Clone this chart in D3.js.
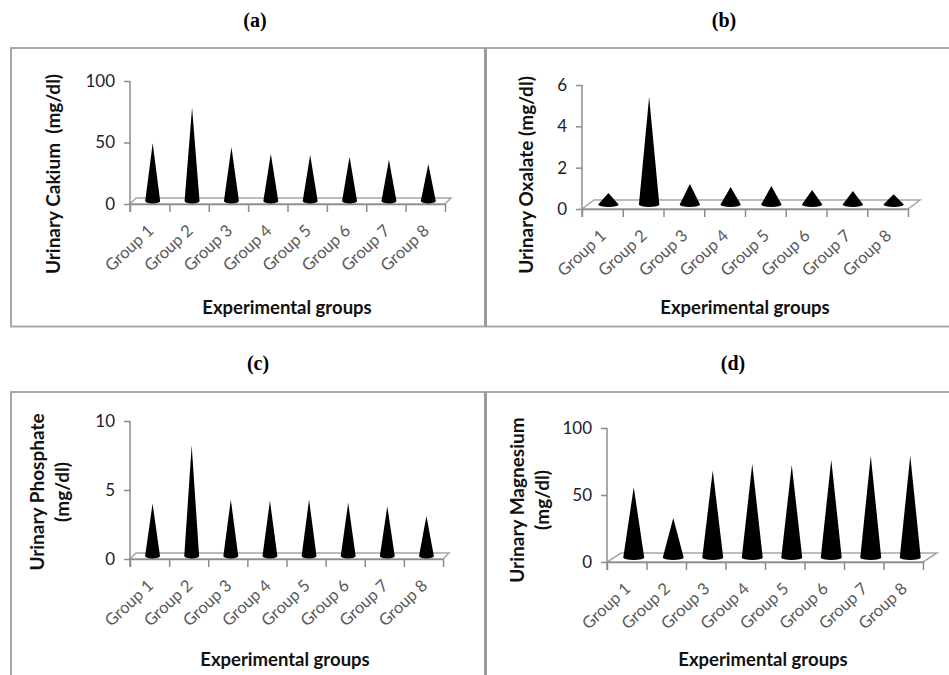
<!DOCTYPE html>
<html>
<head>
<meta charset="utf-8">
<script src="https://cdn.jsdelivr.net/npm/d3@7"></script>
<style>
  body { margin: 0; background: #fff; }
  svg { display: block; }
</style>
</head>
<body>
<svg id="chart" width="949" height="675"></svg>
<script>
// groups on the x axis
var groups = ["Group 1", "Group 2", "Group 3", "Group 4", "Group 5", "Group 6", "Group 7", "Group 8"];

// values (mg/dl)
var calcium   = [47, 76, 44, 38.5, 37.5, 36, 33.5, 30];
var oxalate   = [0.56, 5.2, 0.99, 0.85, 0.9, 0.7, 0.65, 0.5];
var phosphate = [3.8, 8.0, 4.1, 4.0, 4.1, 3.85, 3.6, 2.9];
var magnesium = [52.5, 29.5, 65, 70, 69, 73, 76, 76];

// y tick values
var calciumTicks   = [0, 50, 100];
var oxalateTicks   = [0, 2, 4, 6];
var phosphateTicks = [0, 5, 10];
var magnesiumTicks = [0, 50, 100];

var svg = d3.select("#chart");
var frameColor = "#a8a8a8";
var axisColor = "#8c8c8c";

// panel frames
var frames = svg.append("g");
frames.append("line").attr("x1", 10).attr("x2", 949).attr("y1", 48).attr("y2", 48);
frames.append("line").attr("x1", 10).attr("x2", 949).attr("y1", 326.5).attr("y2", 326.5);
frames.append("line").attr("x1", 11).attr("x2", 11).attr("y1", 48).attr("y2", 326.5);
frames.append("line").attr("x1", 10).attr("x2", 949).attr("y1", 392).attr("y2", 392);
frames.append("line").attr("x1", 11).attr("x2", 11).attr("y1", 392).attr("y2", 675);
frames.selectAll("line").attr("stroke", frameColor).attr("stroke-width", 2);
frames.append("line").attr("x1", 485.5).attr("x2", 485.5).attr("y1", 48).attr("y2", 326.5)
  .attr("stroke", "#9a9a9a").attr("stroke-width", 3);
frames.append("line").attr("x1", 485.5).attr("x2", 485.5).attr("y1", 392).attr("y2", 675)
  .attr("stroke", "#9a9a9a").attr("stroke-width", 3);

function drawPanel(p) {
  var g = svg.append("g");

  var x = d3.scaleBand().domain(groups).range([p.x0, p.x1]);
  var xb = d3.scaleLinear().domain([0, groups.length]).range([p.x0, p.x1]);
  var y = d3.scaleLinear().domain([0, d3.max(p.ticks)]).range([p.y0, p.yTop]);

  // panel letter
  g.append("text")
    .attr("x", p.letterX).attr("y", p.letterY)
    .attr("text-anchor", "middle")
    .style("font-family", "'Liberation Serif', serif")
    .style("font-weight", "bold").style("font-size", "20px")
    .text(p.letter);

  // 3d floor
  var fl = [[p.x0, p.y0], [p.x1, p.y0], [p.x1 + p.dx, p.y0 + p.dy], [p.x0 + p.dx, p.y0 + p.dy]];
  g.append("path")
    .attr("d", "M" + fl.join("L") + "Z")
    .attr("fill", "#fff").attr("stroke", "#a6a6a6").attr("stroke-width", 1.5);

  // x axis (ticks at group boundaries)
  var xa = g.append("g")
    .attr("transform", "translate(0," + p.y0 + ")")
    .call(d3.axisBottom(xb).tickValues(d3.range(groups.length + 1)).tickFormat("").tickSizeInner(8).tickSizeOuter(0));
  xa.selectAll("path, line").attr("stroke", axisColor).attr("stroke-width", 1.5);

  // y axis
  var ya = g.append("g")
    .attr("transform", "translate(" + p.x0 + ",0)")
    .call(d3.axisLeft(y).tickValues(p.ticks).tickFormat(d3.format("d"))
      .tickSizeInner(6).tickSizeOuter(0).tickPadding(9));
  ya.selectAll("path, line").attr("stroke", axisColor).attr("stroke-width", 1.5);
  ya.selectAll("text")
    .style("font-family", "Lato, sans-serif").style("font-size", "17px").attr("fill", "#1c1c2c");
  ya.select(".domain").attr("d", "M0," + (p.y0 + 8) + "V" + p.yTop);

  // cones
  var hw = x.bandwidth() * p.cone / 2;
  g.append("g").selectAll("path")
    .data(p.values)
    .enter().append("path")
    .attr("d", function(d, i) {
      var cx = x(groups[i]) + x.bandwidth() / 2 + p.dx / 2;
      var by = p.y0 + p.dy / 2;
      var ty = y(d) + p.dy / 2;
      return "M" + (cx - hw) + "," + by + "L" + cx + "," + ty + "L" + (cx + hw) + "," + by
        + "A" + hw + "," + 2.5 + " 0 0 1 " + (cx - hw) + "," + by + "Z";
    })
    .attr("fill", "#000");

  // group labels
  g.append("g").selectAll("text")
    .data(groups)
    .enter().append("text")
    .attr("transform", function(d) {
      return "translate(" + (x(d) + x.bandwidth() / 2 + 5) + "," + (p.y0 + 28) + ") rotate(-43)";
    })
    .attr("text-anchor", "end")
    .style("font-family", "Lato, sans-serif").style("font-size", "16.5px")
    .attr("fill", "#595959")
    .text(function(d) { return d; });

  // x axis title
  g.append("text")
    .attr("x", p.xtX).attr("y", p.xtY)
    .attr("text-anchor", "middle")
    .style("font-family", "Lato, sans-serif").style("font-weight", "bold").style("font-size", "18.5px")
    .attr("fill", "#111")
    .text("Experimental groups");

  // y axis title (one or two lines)
  var yt = g.append("text")
    .attr("transform", "translate(" + p.ytX + "," + p.ytY + ") rotate(-90)")
    .attr("text-anchor", "middle")
    .style("font-family", "Lato, sans-serif").style("font-weight", "bold").style("font-size", "19px")
    .style("white-space", "pre")
    .attr("fill", "#111");
  p.ytitle.forEach(function(t, i) {
    yt.append("tspan").attr("x", 0).attr("dy", i == 0 ? 0 : 25).text(t);
  });
}

drawPanel({letter: "(a)", letterX: 255, letterY: 27, values: calcium, ticks: calciumTicks,
  x0: 130, x1: 445, y0: 204, yTop: 81, dx: 6, dy: -6, cone: 0.38,
  xtX: 287, xtY: 314, ytX: 60, ytY: 174, ytitle: ["Urinary Cakium  (mg/dl)"]});

drawPanel({letter: "(b)", letterX: 724, letterY: 27, values: oxalate, ticks: oxalateTicks,
  x0: 582, x1: 908, y0: 209, yTop: 85, dx: 12, dy: -9, cone: 0.5,
  xtX: 745, xtY: 314, ytX: 533, ytY: 175, ytitle: ["Urinary Oxalate (mg/dl)"]});

drawPanel({letter: "(c)", letterX: 258, letterY: 370, values: phosphate, ticks: phosphateTicks,
  x0: 130, x1: 443, y0: 559, yTop: 421, dx: 6, dy: -6, cone: 0.38,
  xtX: 285, xtY: 666, ytX: 44, ytY: 492, ytitle: ["Urinary Phosphate", "(mg/dl)"]});

drawPanel({letter: "(d)", letterX: 733, letterY: 370, values: magnesium, ticks: magnesiumTicks,
  x0: 607, x1: 923, y0: 562, yTop: 428, dx: 14, dy: -9, cone: 0.53,
  xtX: 763, xtY: 666, ytX: 524, ytY: 500, ytitle: ["Urinary Magnesium", "(mg/dl)"]});
</script>
</body>
</html>
